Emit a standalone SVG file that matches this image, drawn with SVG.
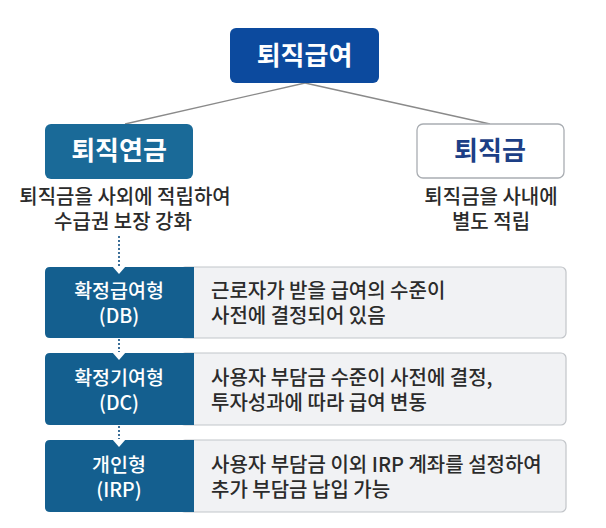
<svg xmlns="http://www.w3.org/2000/svg" width="606" height="528" viewBox="0 0 606 528">
<style>
  text { font-family: "Noto Sans CJK KR", "Noto Sans", sans-serif; }
  .title { font-size: 26px; font-weight: 700; text-anchor: middle; }
  .desc { font-size: 20px; font-weight: 500; fill: #2b2b2b; text-anchor: middle; }
  .lbl { font-size: 19.5px; font-weight: 500; fill: #ffffff; text-anchor: middle; }
  .body { font-size: 20px; font-weight: 500; fill: #2b2b2b; }
  .blue { fill: #145f8f; }
  .gray { fill: #f1f2f4; stroke: #c2c5c9; stroke-width: 1.2; }
  .notch { fill: #ffffff; }
  .conn { stroke: #8a8a8a; stroke-width: 1.3; fill: none; }
  .dots { stroke: #3d6f98; stroke-width: 2; stroke-dasharray: 2 2; fill: none; }
</style>
<rect width="606" height="528" fill="#ffffff"/>
<g id="connectors">
  <line class="conn" x1="305" y1="83" x2="125" y2="124"/>
  <line class="conn" x1="305" y1="83" x2="490" y2="124"/>
  <line class="dots" x1="119" y1="236" x2="119" y2="273"/>
  <line class="dots" x1="119" y1="339" x2="119" y2="359"/>
  <line class="dots" x1="119" y1="426" x2="119" y2="446"/>
</g>
<g id="node-top">
  <rect x="230" y="28" width="149" height="55" rx="6" fill="#0c4a9e"/>
  <text class="title" x="304.5" y="65" fill="#ffffff">퇴직급여</text>
</g>
<g id="node-pension">
  <rect x="45" y="124" width="148" height="55" rx="6" fill="#1a6a98"/>
  <text class="title" x="119" y="160" fill="#ffffff">퇴직연금</text>
  <text class="desc" x="125" y="204">퇴직금을 사외에 적립하여</text>
  <text class="desc" x="123" y="229">수급권 보장 강화</text>
</g>
<g id="node-severance">
  <rect x="417" y="124" width="147" height="54" rx="6" fill="#ffffff" stroke="#a9adb2" stroke-width="1.3"/>
  <text class="title" x="490" y="160" fill="#1d3f86">퇴직금</text>
  <text class="desc" x="491" y="204">퇴직금을 사내에</text>
  <text class="desc" x="491" y="229">별도 적립</text>
</g>
<g id="node-db">
  <rect class="gray" x="180" y="267" width="386" height="71" rx="5"/>
  <path class="blue" d="M50 267 H194 V338 H50 Q45 338 45 333 V272 Q45 267 50 267 Z"/>
  <polygon class="notch" points="112,266 126,266 119,274"/>
  <text class="lbl" x="119" y="298">확정급여형</text>
  <text class="lbl" x="119" y="323">(DB)</text>
  <text class="body" x="211" y="298">근로자가 받을 급여의 수준이</text>
  <text class="body" x="211" y="323">사전에 결정되어 있음</text>
</g>
<g id="node-dc">
  <rect class="gray" x="180" y="353" width="386" height="72" rx="5"/>
  <path class="blue" d="M50 353 H194 V425 H50 Q45 425 45 420 V358 Q45 353 50 353 Z"/>
  <polygon class="notch" points="112,352 126,352 119,360"/>
  <text class="lbl" x="119" y="385">확정기여형</text>
  <text class="lbl" x="119" y="410">(DC)</text>
  <text class="body" x="211" y="385">사용자 부담금 수준이 사전에 결정,</text>
  <text class="body" x="211" y="410">투자성과에 따라 급여 변동</text>
</g>
<g id="node-irp">
  <rect class="gray" x="180" y="440" width="386" height="72" rx="5"/>
  <path class="blue" d="M50 440 H194 V512 H50 Q45 512 45 507 V445 Q45 440 50 440 Z"/>
  <polygon class="notch" points="112,439 126,439 119,447"/>
  <text class="lbl" x="119" y="472">개인형</text>
  <text class="lbl" x="119" y="497">(IRP)</text>
  <text class="body" x="211" y="472">사용자 부담금 이외 IRP 계좌를 설정하여</text>
  <text class="body" x="211" y="497">추가 부담금 납입 가능</text>
</g>
</svg>
